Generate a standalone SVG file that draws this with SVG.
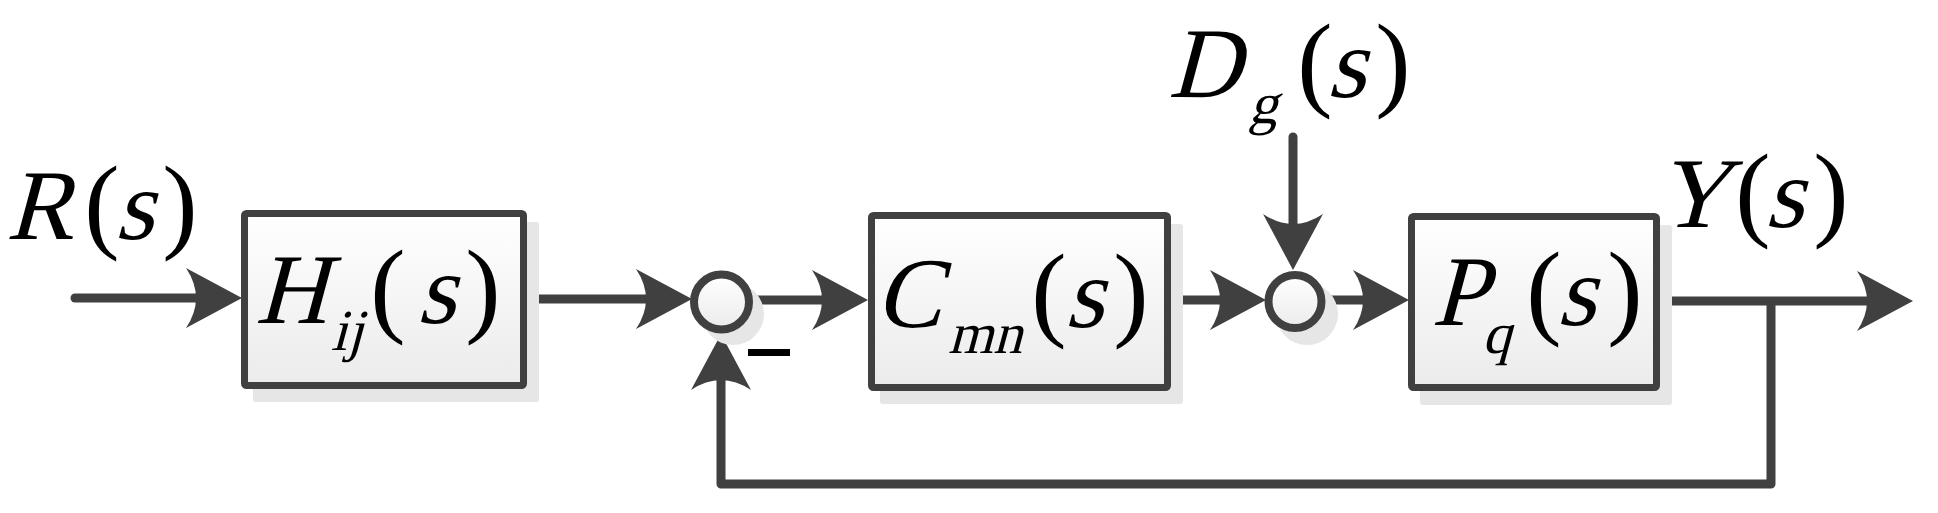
<svg xmlns="http://www.w3.org/2000/svg" width="1938" height="513" viewBox="0 0 1938 513">
<defs>
<linearGradient id="gFill" x1="0" y1="0" x2="0" y2="1">
<stop offset="0" stop-color="#ffffff"/>
<stop offset="1" stop-color="#ebebeb"/>
</linearGradient>
<marker id="ah" markerUnits="userSpaceOnUse" markerWidth="60" markerHeight="64" refX="16" refY="30" orient="auto" overflow="visible">
<path d="M56,30 L0,0 Q20,30 0,60 Z" fill="#404040"/>
</marker>
</defs>
<style>
.box{fill:url(#gFill);stroke:#404040;stroke-width:7}
.sum{fill:url(#gFill);stroke:#404040;stroke-width:8}
.shadow{fill:#e6e6e6;stroke:none}
.conn{fill:none;stroke:#404040;stroke-width:9;stroke-linejoin:round}
</style>

<g id="connectors">
<path class="conn" d="M75,298 H202" stroke-linecap="round" marker-end="url(#ah)"/>
<path class="conn" d="M527,299 H652" marker-end="url(#ah)"/>
<path class="conn" d="M752,300 H828" marker-end="url(#ah)"/>
<path class="conn" d="M1171,300 H1226" marker-end="url(#ah)"/>
<path class="conn" d="M1325,300 H1369" marker-end="url(#ah)"/>
<path class="conn" d="M1660,301 H1873" marker-end="url(#ah)"/>
<path class="conn" d="M1293,137 V230" stroke-linecap="round" marker-end="url(#ah)"/>
<path class="conn" d="M1771,301 V484 H721 V374" marker-end="url(#ah)"/>
</g>

<g id="H">
<rect class="shadow" x="253" y="222" width="286" height="180" rx="3"/>
<rect class="box" x="244.5" y="213.5" width="279" height="172" rx="2"/>
<g transform="matrix(1,0,-0.268,1,86.56,0)">
<text font-family="Liberation Serif, serif" font-size="100" text-anchor="middle" x="291" y="323">H</text>
<text font-family="Liberation Serif, serif" font-size="58" text-anchor="middle" x="354" y="350">ij</text>
<text font-family="Liberation Serif, serif" font-size="100" text-anchor="middle" x="436" y="323">s</text>
</g>
<text font-family="Liberation Serif, serif" font-size="106" text-anchor="middle" x="388" y="323">(</text>
<text font-family="Liberation Serif, serif" font-size="106" text-anchor="middle" x="483" y="323">)</text>
</g>

<g id="sum1">
<circle class="shadow" cx="733" cy="314" r="31"/>
<circle class="sum" cx="721.5" cy="302" r="27.5"/>
<rect x="748" y="349" width="42" height="7" fill="#000"/>
</g>

<g id="C">
<rect class="shadow" x="880" y="224" width="303" height="180" rx="3"/>
<rect class="box" x="871.5" y="215.5" width="296" height="172" rx="2"/>
<g transform="matrix(1,0,-0.268,1,87.64,0)">
<text font-family="Liberation Serif, serif" font-size="100" text-anchor="middle" x="908" y="327">C</text>
<text font-family="Liberation Serif, serif" font-size="58" text-anchor="middle" x="992" y="353">mn</text>
<text font-family="Liberation Serif, serif" font-size="100" text-anchor="middle" x="1084" y="327">s</text>
</g>
<text font-family="Liberation Serif, serif" font-size="106" text-anchor="middle" x="1049" y="327">(</text>
<text font-family="Liberation Serif, serif" font-size="106" text-anchor="middle" x="1131" y="327">)</text>
</g>

<g id="sum2">
<circle class="shadow" cx="1307" cy="314" r="31"/>
<circle class="sum" cx="1295" cy="301.5" r="26.5"/>
</g>

<g id="P">
<rect class="shadow" x="1420" y="225" width="252" height="180" rx="3"/>
<rect class="box" x="1411.5" y="216.5" width="245" height="171" rx="2"/>
<g transform="matrix(1,0,-0.268,1,87.1,0)">
<text font-family="Liberation Serif, serif" font-size="100" text-anchor="middle" x="1459" y="325">P</text>
<text font-family="Liberation Serif, serif" font-size="58" text-anchor="middle" x="1504" y="353">q</text>
<text font-family="Liberation Serif, serif" font-size="100" text-anchor="middle" x="1576" y="325">s</text>
</g>
<text font-family="Liberation Serif, serif" font-size="106" text-anchor="middle" x="1544" y="325">(</text>
<text font-family="Liberation Serif, serif" font-size="106" text-anchor="middle" x="1625" y="325">)</text>
</g>

<g id="R">
<g transform="matrix(1,0,-0.268,1,64.05,0)">
<text font-family="Liberation Serif, serif" font-size="100" text-anchor="middle" x="39" y="239">R</text>
<text font-family="Liberation Serif, serif" font-size="100" text-anchor="middle" x="134" y="239">s</text>
</g>
<text font-family="Liberation Serif, serif" font-size="106" text-anchor="middle" x="102" y="239">(</text>
<text font-family="Liberation Serif, serif" font-size="106" text-anchor="middle" x="180" y="239">)</text>
</g>

<g id="D">
<g transform="matrix(1,0,-0.268,1,26,0)">
<text font-family="Liberation Serif, serif" font-size="100" text-anchor="middle" x="1204" y="97">D</text>
<text font-family="Liberation Serif, serif" font-size="58" text-anchor="middle" x="1270" y="123">g</text>
<text font-family="Liberation Serif, serif" font-size="100" text-anchor="middle" x="1346" y="97">s</text>
</g>
<text font-family="Liberation Serif, serif" font-size="106" text-anchor="middle" x="1315" y="97">(</text>
<text font-family="Liberation Serif, serif" font-size="106" text-anchor="middle" x="1393" y="97">)</text>
</g>

<g id="Y">
<g transform="matrix(1,0,-0.268,1,60.84,0)">
<text font-family="Liberation Serif, serif" font-size="100" text-anchor="middle" x="1692" y="227">Y</text>
<text font-family="Liberation Serif, serif" font-size="100" text-anchor="middle" x="1784" y="227">s</text>
</g>
<text font-family="Liberation Serif, serif" font-size="106" text-anchor="middle" x="1753" y="227">(</text>
<text font-family="Liberation Serif, serif" font-size="106" text-anchor="middle" x="1831" y="227">)</text>
</g>
</svg>
